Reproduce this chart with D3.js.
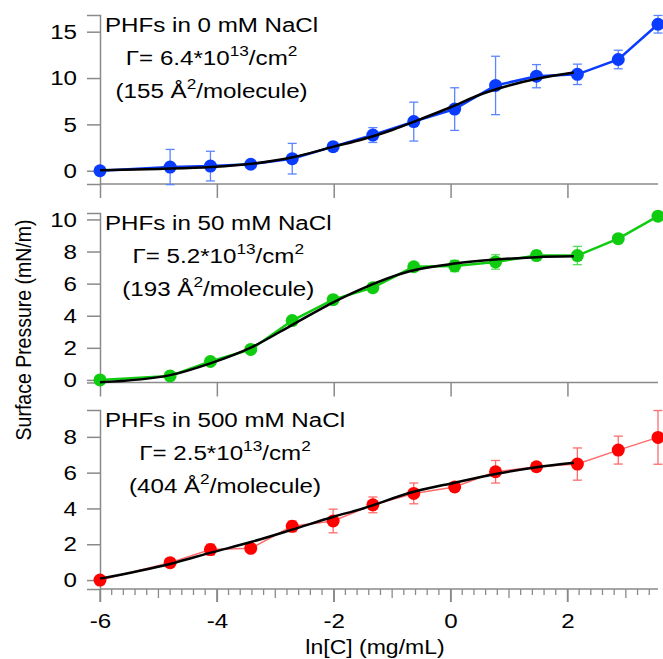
<!DOCTYPE html>
<html><head><meta charset="utf-8">
<script src="https://cdn.jsdelivr.net/npm/d3@7"></script>
<style>body{margin:0;background:#fff}svg{display:block;font-family:"Liberation Sans",Arial,sans-serif}</style>
</head><body><svg id="c" width="663" height="659"></svg>
<script>
// ---- data ----
const lnC = [-6, -4.8, -4.11, -3.42, -2.71, -2.01, -1.33, -0.63, 0.07, 0.77, 1.47, 2.17, 2.87, 3.55];
const pi0   = [0, 0.4, 0.5, 0.7, 1.3, 2.6, 3.85, 5.3, 6.65, 9.2, 10.2, 10.4, 12.0, 15.8];
const err0  = [0, 1.9, 1.6, 0.3, 1.65, 0.3, 0.8, 2.1, 2.3, 3.15, 1.25, 1.1, 1.0, 0.95];
const pi50  = [0, 0.25, 1.15, 1.9, 3.7, 5.0, 5.75, 7.05, 7.1, 7.35, 7.75, 7.75, 8.8, 10.2];
const err50 = [0, 0.1, 0.2, 0.2, 0.2, 0.2, 0.2, 0.2, 0.35, 0.45, 0.3, 0.57, 0, 0];
const pi500 = [0, 0.97, 1.7, 1.77, 3.0, 3.3, 4.2, 4.84, 5.2, 6.05, 6.33, 6.48, 7.26, 7.97];
const err500= [0, 0.2, 0.3, 0.2, 0.3, 0.66, 0.44, 0.58, 0.2, 0.63, 0.2, 0.9, 0.78, 1.5];
const fit0X = [-6, -5, -4.1, -3.4, -2.7, -2.0, -1.5, -1.0, -0.5, 0, 0.5, 1.0, 1.5, 2.11];
const fit0Y = [0.05, 0.2, 0.4, 0.75, 1.45, 2.6, 3.4, 4.4, 5.6, 6.85, 8.2, 9.2, 9.95, 10.6];
const fit50X = [-6, -4.8, -4.1, -3.4, -2.7, -2.0, -1.55, -0.7, 0.07, 0.77, 1.47, 2.11];
const fit50Y = [-0.15, 0.3, 1.05, 2.05, 3.45, 4.85, 5.63, 6.77, 7.25, 7.5, 7.65, 7.7];
const fit500X = [-6, -4.8, -4.1, -3.4, -2.7, -2.0, -1.55, -0.63, 0.07, 0.77, 1.47, 2.11];
const fit500Y = [0.08, 0.9, 1.53, 2.14, 2.83, 3.54, 3.95, 4.93, 5.44, 5.92, 6.3, 6.55];
const xTicks = [-6, -4, -2, 0, 2];
const yTicks0 = [0, 5, 10, 15];
const yTicks50 = [0, 2, 4, 6, 8, 10];
const yTicks500 = [0, 2, 4, 6, 8];
const labels0 = ["PHFs in 0 mM NaCl", "6.4", "155"];
const labels50 = ["PHFs in 50 mM NaCl", "5.2", "193"];
const labels500 = ["PHFs in 500 mM NaCl", "2.5", "404"];
const xTitle = "ln[C] (mg/mL)";
const yTitle = "Surface Pressure (mN/m)";

// ---- layout ----
const SX = 1.15; // horizontal stretch of glyphs
const svg = d3.select("#c");
const x = d3.scaleLinear().domain([-6, 3.55]).range([100, 658]);
const axisColor = "#8a8a8a";

const panels = [
  {vals: pi0, errs: err0, fx: fit0X, fy: fit0Y, ticks: yTicks0, lab: labels0,
   dom: [-1.43, 16.8], rng: [184, 15], col: "#0a3cff", line: "#0a3cff", lw: 2.5, ecol: "#5b85ff", last: false},
  {vals: pi50, errs: err50, fx: fit50X, fy: fit50Y, ticks: yTicks50, lab: labels50,
   dom: [-0.16, 10.4], rng: [382.5, 213], col: "#10cc10", line: "#10cc10", lw: 2.5, ecol: "#55dd55", last: false},
  {vals: pi500, errs: err500, fx: fit500X, fy: fit500Y, ticks: yTicks500, lab: labels500,
   dom: [-0.5, 9.5], rng: [589, 410], col: "#ff0000", line: "#ff6b6b", lw: 1.5, ecol: "#ff6b6b", last: true}
];

function styleTickText(sel) {
  sel.attr("font-size", 21).attr("fill", "#000")
    .attr("font-family", "Liberation Sans, Arial, sans-serif")
    .attr("transform", `scale(${SX},1)`);
}

panels.forEach(p => {
  const y = d3.scaleLinear().domain(p.dom).range(p.rng);
  const g = svg.append("g");
  // y axis
  const ya = g.append("g").attr("transform", "translate(100,0)")
    .call(d3.axisLeft(y).tickValues(p.ticks).tickSize(13).tickPadding(7).tickFormat(d => String(d)));
  ya.select(".domain").attr("stroke", axisColor).attr("stroke-width", 1.5);
  ya.selectAll(".tick line").attr("stroke", axisColor).attr("stroke-width", 1.5);
  styleTickText(ya.selectAll(".tick text"));
  // x axis
  const xa = g.append("g").attr("transform", `translate(0,${p.rng[0]})`);
  if (p.last) {
    const minor = d3.range(-6, 3.56, 0.2).map(v => Math.round(v * 10) / 10);
    xa.selectAll("line.mn").data(minor).join("line")
      .attr("x1", d => x(d)).attr("x2", d => x(d)).attr("y1", 0)
      .attr("y2", d => Number.isInteger(d) ? (d % 2 === 0 ? 13 : 9) : 6)
      .attr("stroke", axisColor).attr("stroke-width", 1.3);
    xa.call(d3.axisBottom(x).tickValues(xTicks).tickSize(13).tickPadding(11).tickFormat(d => String(d)));
    styleTickText(xa.selectAll(".tick text"));
  } else {
    xa.call(d3.axisBottom(x).tickValues(xTicks).tickSize(14).tickFormat(""));
  }
  xa.select(".domain").attr("stroke", axisColor).attr("stroke-width", 1.5).attr("d", `M${x(-6)},0H${x(3.55)}`);
  xa.selectAll(".tick line").attr("stroke", axisColor).attr("stroke-width", 1.5);

  const pts = lnC.map((c, i) => ({c, v: p.vals[i], e: p.errs[i]}));
  // error bars
  const eb = g.append("g").attr("stroke", p.ecol).attr("stroke-width", 1.3).attr("fill", "none");
  pts.filter(d => d.e > 0).forEach(d => {
    const x0 = x(d.c), y1 = y(d.v - d.e), y2 = y(d.v + d.e);
    eb.append("line").attr("x1", x0).attr("x2", x0).attr("y1", y1).attr("y2", y2);
    eb.append("line").attr("x1", x0 - 4.5).attr("x2", x0 + 4.5).attr("y1", y1).attr("y2", y1);
    eb.append("line").attr("x1", x0 - 4.5).attr("x2", x0 + 4.5).attr("y1", y2).attr("y2", y2);
  });
  // data line
  g.append("path").datum(pts).attr("fill", "none").attr("stroke", p.line).attr("stroke-width", p.lw)
    .attr("d", d3.line().x(d => x(d.c)).y(d => y(d.v)));
  // markers
  g.selectAll("circle.m").data(pts).join("circle")
    .attr("cx", d => x(d.c)).attr("cy", d => y(d.v)).attr("r", 6.5).attr("fill", p.col);
  // fit
  const fit = p.fx.map((c, i) => [c, p.fy[i]]);
  g.append("path").datum(fit).attr("fill", "none").attr("stroke", "#000").attr("stroke-width", 2.5)
    .attr("d", d3.line().curve(d3.curveMonotoneX).x(d => x(d[0])).y(d => y(d[1])));

  // annotation
  const top = p.rng[1];
  const t1g = g.append("g").attr("transform", `translate(105,${top + 17}) scale(${SX},1)`);
  const t1 = t1g.append("text").attr("font-size", 21).text(p.lab[0]);
  const w = t1.node().getComputedTextLength() * SX;
  const cx = 105 + w / 2;
  const t2 = g.append("g").attr("transform", `translate(${cx},${top + 50}) scale(${SX},1)`)
    .append("text").attr("font-size", 21).attr("text-anchor", "middle");
  t2.append("tspan").text("\u0393= " + p.lab[1] + "*10");
  t2.append("tspan").attr("dy", -9).attr("font-size", 15).text("13");
  t2.append("tspan").attr("dy", 9).text("/cm");
  t2.append("tspan").attr("dy", -9).attr("font-size", 15).text("2");
  const t3 = g.append("g").attr("transform", `translate(${cx},${top + 83}) scale(${SX},1)`)
    .append("text").attr("font-size", 21).attr("text-anchor", "middle");
  t3.append("tspan").text("(" + p.lab[2] + " \u00C5");
  t3.append("tspan").attr("dy", -9).attr("font-size", 15).text("2");
  t3.append("tspan").attr("dy", 9).text("/molecule)");
});

svg.append("g").attr("transform", `translate(375,654) scale(${SX},1)`)
  .append("text").attr("text-anchor", "middle").attr("font-size", 20).text(xTitle);
svg.append("g").attr("transform", `translate(31,330) rotate(-90) scale(1,${SX})`)
  .append("text").attr("text-anchor", "middle").attr("font-size", 19.5).text(yTitle);
</script></body></html>
